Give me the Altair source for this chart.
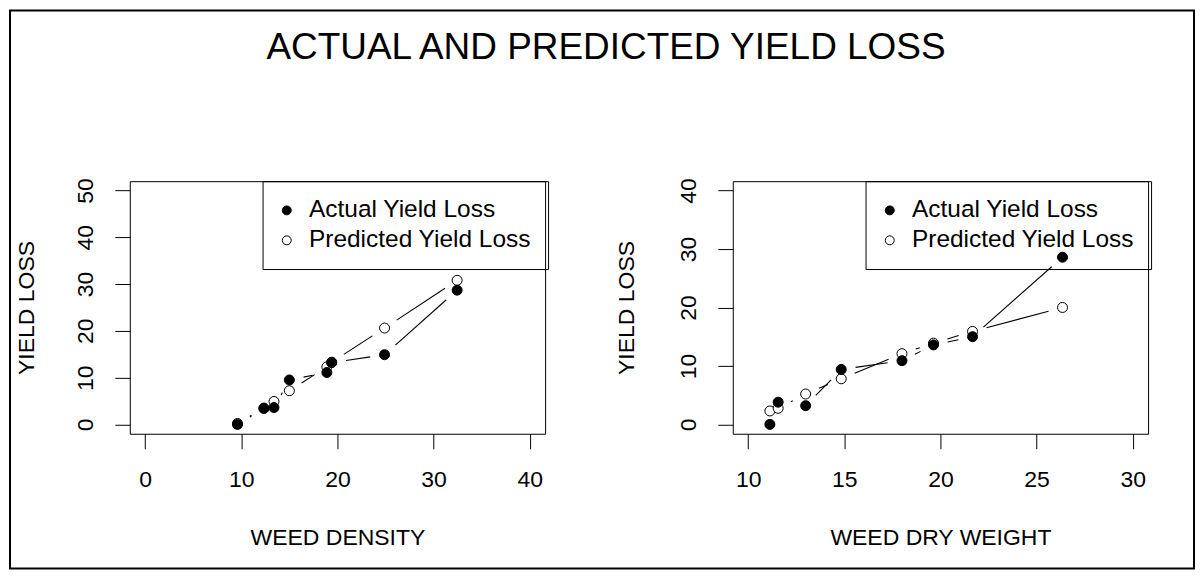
import altair as alt
import pandas as pd

FONT = "Liberation Sans"

main_title = "ACTUAL AND PREDICTED YIELD LOSS"
series_names = ["Actual Yield Loss", "Predicted Yield Loss"]

# Left panel: yield loss against weed density
density = [9.6, 12.35, 13.4, 15.0, 18.9, 19.4, 24.9, 32.45]
actual_by_density = [0.0, 3.4, 3.6, 9.5, 11.1, 13.2, 14.9, 28.7]
predicted_by_density = [0.2, 3.5, 4.9, 7.2, 12.3, 13.3, 20.6, 30.8]

# Right panel: yield loss against weed dry weight
dry_weight = [11.13, 11.56, 12.99, 14.84, 18.0, 19.64, 21.67, 26.35]
actual_by_weight = [0.0, 3.8, 3.2, 9.4, 10.9, 13.6, 15.0, 28.6]
predicted_by_weight = [2.3, 2.75, 5.2, 7.8, 12.1, 13.9, 15.9, 20.0]

density_ticks = [0, 10, 20, 30, 40]
weight_ticks = [10, 15, 20, 25, 30]
loss_ticks_left = [0, 10, 20, 30, 40, 50]
loss_ticks_right = [0, 10, 20, 30, 40]

W, H = 416, 253
GAP = 14.5  # gap (px) left around points by the connecting lines


def panel(xvals, act, pred, xdom, ydom, xticks, yticks, xtitle, ytitle_x, extra=None):
    n = len(xvals)
    df = pd.DataFrame({
        "x": list(xvals) + list(xvals),
        "y": list(pred) + list(act),
        "series": [series_names[1]] * n + [series_names[0]] * n,
    })
    sx = W / (xdom[1] - xdom[0])
    sy = H / (ydom[1] - ydom[0])
    xscale = alt.Scale(domain=xdom, nice=False, zero=False)
    yscale = alt.Scale(domain=ydom, nice=False, zero=False)
    xaxis = alt.Axis(values=xticks, title=xtitle, labelBaseline="alphabetic",
                     labelPadding=38, labelAlign="center",
                     titleX=W / 2, titleY=111, titleAlign="center",
                     titleBaseline="alphabetic")
    yaxis = alt.Axis(values=yticks, title="YIELD LOSS", labelAngle=270,
                     labelAlign="center", labelBaseline="alphabetic",
                     labelPadding=22, titleAngle=270, titleX=ytitle_x,
                     titleY=H / 2, titleAlign="center",
                     titleBaseline="alphabetic")
    base = alt.Chart(df)
    segs = (
        base.transform_window(
            x_next="lead(x)", y_next="lead(y)",
            groupby=["series"], sort=[alt.SortField("x")],
        )
        .transform_filter("isValid(datum.x_next)")
        .transform_calculate(
            dxp=f"(datum.x_next - datum.x) * {sx}",
            dyp=f"(datum.y_next - datum.y) * {sy}",
        )
        .transform_calculate(seglen="sqrt(datum.dxp * datum.dxp + datum.dyp * datum.dyp)")
        .transform_filter(f"datum.seglen > {2 * GAP}")
        .transform_calculate(fr=f"{GAP} / datum.seglen")
        .transform_calculate(
            xa="datum.x + datum.fr * (datum.x_next - datum.x)",
            xb="datum.x_next - datum.fr * (datum.x_next - datum.x)",
            ya="datum.y + datum.fr * (datum.y_next - datum.y)",
            yb="datum.y_next - datum.fr * (datum.y_next - datum.y)",
        )
        .mark_rule(color="black", strokeWidth=1.1)
        .encode(
            x=alt.X("xa:Q", scale=xscale, axis=xaxis),
            x2="xb:Q",
            y=alt.Y("ya:Q", scale=yscale, axis=yaxis),
            y2="yb:Q",
        )
    )
    legend = alt.Legend(
        title=None, orient="none", legendX=133, legendY=0,
        strokeColor="black", padding=17, labelFontSize=24.5, labelFont=FONT,
        labelColor="black", symbolType="circle", symbolSize=80,
        symbolStrokeColor="black", symbolStrokeWidth=1, labelOffset=10,
        symbolOffset=-5, rowPadding=5, zindex=1, labelLimit=400,
    )
    pts = base.mark_circle(size=100, stroke="black", strokeWidth=1, opacity=1).encode(
        x=alt.X("x:Q", scale=xscale, axis=xaxis),
        y=alt.Y("y:Q", scale=yscale, axis=yaxis),
        fill=alt.Fill("series:N", scale=alt.Scale(domain=series_names, range=["black", "white"]),
                      legend=legend),
    )
    layers = []
    if extra:
        layers.extend(extra)
    layers += [segs, pts]
    return alt.layer(*layers).properties(width=W, height=H)


border = alt.Chart(alt.Data(values=[{"a": 1}])).mark_rect(
    filled=False, stroke="black", strokeWidth=2
).encode(x=alt.value(-120), x2=alt.value(1066), y=alt.value(-171), y2=alt.value(388))

title = alt.Chart(alt.Data(values=[{"t": main_title}])).mark_text(
    font=FONT, fontSize=37, align="center", baseline="alphabetic", color="black"
).encode(text="t:N", x=alt.value(477), y=alt.value(-122.7))

left = panel(density, actual_by_density, predicted_by_density, [-1.6, 41.6], [-2, 52],
             density_ticks, loss_ticks_left, "WEED DENSITY", -96, extra=[border, title])
right = panel(dry_weight, actual_by_weight, predicted_by_weight, [9.2, 30.8], [-1.6, 41.6],
              weight_ticks, loss_ticks_right, "WEED DRY WEIGHT", -99)

chart = (
    alt.hconcat(left, right, spacing=188, bounds="flush", padding=0)
    .resolve_scale(x="independent", y="independent", fill="independent")
    .resolve_legend(fill="independent")
    .configure(background="white")
    .configure_view(stroke="black", strokeWidth=1)
    .configure_axis(
        domain=False, grid=False, tickColor="black", tickSize=15, tickWidth=1,
        labelFont=FONT, labelFontSize=23, labelColor="black",
        labelFlush=False, labelOverlap=False,
        titleFont=FONT, titleFontSize=23, titleFontWeight="normal", titleColor="black",
    )
)

chart.save("out.html", embed_options={"renderer": "svg", "actions": False})
